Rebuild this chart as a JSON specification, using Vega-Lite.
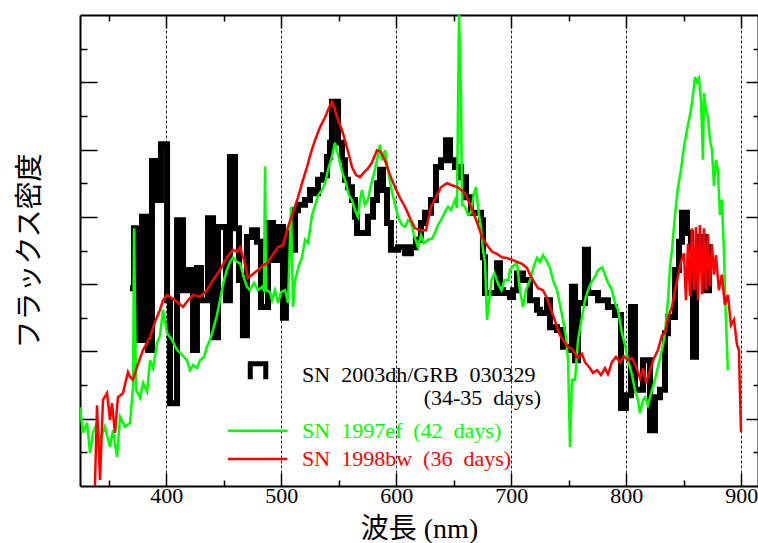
{
  "$schema": "https://vega.github.io/schema/vega-lite/v6.json",
  "width": 678,
  "height": 471,
  "autosize": {"type": "none"},
  "padding": {"left": 80, "top": 15, "right": 0, "bottom": 57},
  "background": "white",
  "config": {"view": {"stroke": null}},
  "datasets": {
    "green": [
      {"w":325.0,"f":1.17},{"w":327.6,"f":0.79},{"w":331.1,"f":0.94},{"w":333.7,"f":0.49},{"w":336.3,"f":0.79},{"w":339.8,"f":0.94},{"w":342.4,"f":0.68},{"w":346.7,"f":0.88},{"w":351.1,"f":0.58},{"w":353.7,"f":0.83},{"w":357.2,"f":0.43},{"w":359.8,"f":1.03},{"w":364.1,"f":0.88},{"w":368.5,"f":0.94},{"w":371.1,"f":1.47},{"w":372.0,"f":3.83},{"w":373.7,"f":1.43},{"w":377.2,"f":1.31},{"w":379.8,"f":1.53},{"w":383.3,"f":1.40},{"w":385.9,"f":1.87},{"w":388.5,"f":1.75},{"w":392.0,"f":2.12},{"w":394.6,"f":2.24},{"w":397.2,"f":2.62},{"w":400.7,"f":2.27},{"w":405.0,"f":2.17},{"w":409.4,"f":2.02},{"w":413.7,"f":1.95},{"w":418.0,"f":1.87},{"w":420.7,"f":1.72},{"w":423.3,"f":1.80},{"w":426.7,"f":1.75},{"w":429.3,"f":1.87},{"w":432.8,"f":1.92},{"w":435.4,"f":2.07},{"w":438.0,"f":2.17},{"w":440.7,"f":2.32},{"w":444.1,"f":2.54},{"w":446.7,"f":2.76},{"w":450.2,"f":3.06},{"w":452.8,"f":3.21},{"w":455.4,"f":3.33},{"w":458.0,"f":3.40},{"w":461.5,"f":3.33},{"w":464.1,"f":3.31},{"w":467.6,"f":3.09},{"w":470.2,"f":2.96},{"w":472.8,"f":2.91},{"w":476.3,"f":3.02},{"w":479.8,"f":2.91},{"w":483.3,"f":2.96},{"w":485.0,"f":2.91},{"w":485.9,"f":4.75},{"w":486.8,"f":2.91},{"w":490.2,"f":2.88},{"w":492.0,"f":2.76},{"w":494.6,"f":2.91},{"w":497.2,"f":2.72},{"w":499.8,"f":2.88},{"w":503.3,"f":2.91},{"w":505.9,"f":2.72},{"w":508.5,"f":4.15},{"w":510.2,"f":2.66},{"w":512.0,"f":3.06},{"w":515.4,"f":3.28},{"w":518.0,"f":3.40},{"w":520.7,"f":3.66},{"w":523.3,"f":3.61},{"w":526.8,"f":4.03},{"w":529.4,"f":4.17},{"w":532.0,"f":4.32},{"w":535.4,"f":4.40},{"w":538.1,"f":4.50},{"w":540.7,"f":4.70},{"w":544.1,"f":4.89},{"w":546.7,"f":5.10},{"w":549.4,"f":4.92},{"w":551.1,"f":4.80},{"w":553.7,"f":4.62},{"w":555.4,"f":4.55},{"w":558.9,"f":4.32},{"w":561.5,"f":4.25},{"w":564.1,"f":4.10},{"w":566.7,"f":4.00},{"w":568.5,"f":4.25},{"w":570.2,"f":4.40},{"w":572.8,"f":4.18},{"w":575.4,"f":4.25},{"w":578.0,"f":4.47},{"w":581.5,"f":4.70},{"w":584.1,"f":4.92},{"w":585.9,"f":5.07},{"w":587.6,"f":4.84},{"w":590.2,"f":4.99},{"w":592.8,"f":4.70},{"w":595.4,"f":4.44},{"w":598.9,"f":4.18},{"w":601.5,"f":4.00},{"w":605.0,"f":3.88},{"w":607.6,"f":3.85},{"w":610.2,"f":3.95},{"w":612.8,"f":3.92},{"w":615.4,"f":3.73},{"w":618.9,"f":3.55},{"w":621.5,"f":3.73},{"w":624.1,"f":3.61},{"w":627.6,"f":3.66},{"w":631.1,"f":3.68},{"w":633.7,"f":3.76},{"w":636.3,"f":3.88},{"w":638.9,"f":3.95},{"w":642.4,"f":4.07},{"w":645.0,"f":4.15},{"w":647.6,"f":4.10},{"w":651.1,"f":4.25},{"w":652.8,"f":4.13},{"w":654.6,"f":7.00},{"w":656.3,"f":5.81},{"w":657.2,"f":4.18},{"w":659.8,"f":4.15},{"w":662.4,"f":4.03},{"w":665.0,"f":4.06},{"w":667.6,"f":4.35},{"w":669.3,"f":4.44},{"w":671.9,"f":4.03},{"w":673.7,"f":3.85},{"w":675.4,"f":3.51},{"w":677.2,"f":3.33},{"w":678.9,"f":2.47},{"w":682.8,"f":3.06},{"w":685.4,"f":3.16},{"w":688.9,"f":2.99},{"w":691.5,"f":2.91},{"w":694.1,"f":3.06},{"w":697.6,"f":3.06},{"w":698.9,"f":3.21},{"w":702.4,"f":3.28},{"w":705.0,"f":3.31},{"w":707.6,"f":2.91},{"w":710.2,"f":2.66},{"w":712.8,"f":2.91},{"w":716.3,"f":3.06},{"w":719.8,"f":3.28},{"w":722.4,"f":3.39},{"w":725.0,"f":3.33},{"w":727.6,"f":3.43},{"w":730.2,"f":3.36},{"w":733.7,"f":3.24},{"w":736.3,"f":3.06},{"w":739.8,"f":2.91},{"w":742.4,"f":2.69},{"w":745.0,"f":2.47},{"w":747.6,"f":2.21},{"w":749.4,"f":1.87},{"w":751.1,"f":0.58},{"w":752.8,"f":1.58},{"w":755.5,"f":1.58},{"w":758.1,"f":2.17},{"w":761.5,"f":2.51},{"w":764.1,"f":2.76},{"w":766.8,"f":2.91},{"w":769.4,"f":3.02},{"w":772.8,"f":3.11},{"w":775.5,"f":3.21},{"w":779.0,"f":3.25},{"w":781.5,"f":3.14},{"w":784.1,"f":3.02},{"w":787.6,"f":2.91},{"w":790.2,"f":2.72},{"w":792.8,"f":2.62},{"w":796.3,"f":2.27},{"w":798.9,"f":2.10},{"w":801.5,"f":1.87},{"w":805.0,"f":1.65},{"w":807.6,"f":1.43},{"w":810.2,"f":1.28},{"w":812.0,"f":1.08},{"w":814.6,"f":1.28},{"w":816.3,"f":1.32},{"w":818.9,"f":1.20},{"w":822.4,"f":1.43},{"w":825.0,"f":1.58},{"w":827.6,"f":1.77},{"w":831.1,"f":2.02},{"w":833.7,"f":2.27},{"w":836.3,"f":2.76},{"w":838.0,"f":3.25},{"w":839.8,"f":3.51},{"w":842.4,"f":4.03},{"w":845.0,"f":4.44},{"w":847.6,"f":4.70},{"w":850.2,"f":5.04},{"w":852.8,"f":5.29},{"w":854.5,"f":5.44},{"w":856.3,"f":5.59},{"w":858.0,"f":5.81},{"w":859.8,"f":6.08},{"w":861.5,"f":6.00},{"w":863.2,"f":6.06},{"w":865.0,"f":5.74},{"w":866.7,"f":4.85},{"w":867.6,"f":5.84},{"w":869.3,"f":5.59},{"w":871.1,"f":5.48},{"w":872.8,"f":5.14},{"w":874.6,"f":4.99},{"w":876.3,"f":4.46},{"w":878.0,"f":4.84},{"w":879.7,"f":4.69},{"w":881.5,"f":4.03},{"w":883.2,"f":4.25},{"w":884.9,"f":3.51},{"w":886.7,"f":2.47},{"w":888.4,"f":1.72}
    ],
    "red": [
      {"w":338.0,"f":0.0},{"w":339.8,"f":1.20},{"w":342.4,"f":0.09},{"w":345.0,"f":1.28},{"w":348.5,"f":1.38},{"w":351.1,"f":0.98},{"w":352.8,"f":1.23},{"w":355.4,"f":0.79},{"w":358.0,"f":1.32},{"w":362.4,"f":1.38},{"w":366.7,"f":1.69},{"w":368.5,"f":1.62},{"w":371.1,"f":1.58},{"w":374.6,"f":1.77},{"w":379.8,"f":2.02},{"w":385.9,"f":2.21},{"w":390.2,"f":2.44},{"w":394.6,"f":2.62},{"w":397.2,"f":2.76},{"w":400.7,"f":2.84},{"w":403.3,"f":2.81},{"w":407.6,"f":2.76},{"w":414.6,"f":2.66},{"w":418.9,"f":2.76},{"w":423.3,"f":2.84},{"w":429.3,"f":2.81},{"w":435.4,"f":2.91},{"w":440.7,"f":3.06},{"w":446.7,"f":3.21},{"w":452.8,"f":3.40},{"w":458.0,"f":3.51},{"w":461.5,"f":3.48},{"w":464.1,"f":3.55},{"w":467.6,"f":3.36},{"w":471.1,"f":3.09},{"w":474.6,"f":3.14},{"w":479.8,"f":3.21},{"w":484.1,"f":3.28},{"w":487.6,"f":3.31},{"w":492.0,"f":3.42},{"w":497.2,"f":3.55},{"w":501.5,"f":3.58},{"w":505.9,"f":3.85},{"w":510.2,"f":4.07},{"w":514.6,"f":4.29},{"w":518.9,"f":4.55},{"w":522.4,"f":4.74},{"w":525.9,"f":4.96},{"w":529.4,"f":5.14},{"w":533.7,"f":5.33},{"w":538.1,"f":5.48},{"w":541.5,"f":5.62},{"w":544.1,"f":5.71},{"w":546.7,"f":5.59},{"w":549.4,"f":5.44},{"w":552.8,"f":5.29},{"w":555.4,"f":5.14},{"w":558.9,"f":4.92},{"w":561.5,"f":4.74},{"w":565.0,"f":4.62},{"w":568.5,"f":4.59},{"w":571.9,"f":4.66},{"w":575.4,"f":4.72},{"w":578.9,"f":4.81},{"w":583.3,"f":4.99},{"w":586.7,"f":4.96},{"w":590.2,"f":4.84},{"w":594.6,"f":4.62},{"w":598.9,"f":4.44},{"w":603.3,"f":4.28},{"w":607.6,"f":4.15},{"w":612.8,"f":3.95},{"w":616.3,"f":3.83},{"w":620.7,"f":3.80},{"w":625.9,"f":3.80},{"w":630.2,"f":4.15},{"w":635.4,"f":4.32},{"w":638.9,"f":4.44},{"w":644.1,"f":4.50},{"w":648.5,"f":4.47},{"w":653.7,"f":4.44},{"w":659.8,"f":4.35},{"w":665.0,"f":4.15},{"w":670.2,"f":3.92},{"w":674.6,"f":3.70},{"w":678.9,"f":3.58},{"w":683.3,"f":3.48},{"w":687.6,"f":3.45},{"w":691.9,"f":3.40},{"w":696.3,"f":3.39},{"w":700.7,"f":3.36},{"w":705.0,"f":3.33},{"w":709.4,"f":3.30},{"w":713.7,"f":3.24},{"w":716.3,"f":3.14},{"w":718.9,"f":3.06},{"w":723.3,"f":2.94},{"w":727.6,"f":2.91},{"w":731.1,"f":2.79},{"w":733.7,"f":2.66},{"w":737.2,"f":2.50},{"w":739.8,"f":2.36},{"w":742.4,"f":2.24},{"w":745.0,"f":2.17},{"w":749.4,"f":2.07},{"w":753.7,"f":2.02},{"w":758.1,"f":1.90},{"w":761.5,"f":1.96},{"w":764.1,"f":1.84},{"w":768.5,"f":1.75},{"w":771.1,"f":1.68},{"w":774.6,"f":1.72},{"w":778.1,"f":1.65},{"w":781.5,"f":1.75},{"w":784.1,"f":1.66},{"w":787.6,"f":1.84},{"w":791.1,"f":1.92},{"w":794.6,"f":1.84},{"w":798.0,"f":1.93},{"w":801.5,"f":1.87},{"w":805.0,"f":1.90},{"w":808.5,"f":1.78},{"w":812.0,"f":1.60},{"w":814.6,"f":1.75},{"w":817.2,"f":1.53},{"w":820.7,"f":1.72},{"w":824.1,"f":1.90},{"w":827.6,"f":2.02},{"w":831.1,"f":2.24},{"w":833.7,"f":2.27},{"w":836.3,"f":2.50},{"w":839.8,"f":2.66},{"w":842.4,"f":2.91},{"w":845.0,"f":3.11},{"w":847.6,"f":3.33},{"w":850.2,"f":3.46},{"w":851.9,"f":2.76},{"w":853.7,"f":3.60},{"w":855.4,"f":2.82},{"w":857.1,"f":3.83},{"w":858.9,"f":2.91},{"w":860.7,"f":3.85},{"w":862.4,"f":2.76},{"w":864.1,"f":3.88},{"w":865.9,"f":2.85},{"w":867.6,"f":3.83},{"w":869.3,"f":2.91},{"w":871.1,"f":3.74},{"w":872.8,"f":2.97},{"w":874.6,"f":3.58},{"w":876.3,"f":3.14},{"w":878.0,"f":3.43},{"w":880.6,"f":2.91},{"w":883.2,"f":3.14},{"w":885.8,"f":2.69},{"w":888.4,"f":2.84},{"w":891.1,"f":2.39},{"w":893.7,"f":2.47},{"w":896.3,"f":2.10},{"w":898.0,"f":2.02},{"w":899.8,"f":0.80}
    ],
    "black": [
      {"w":368.5,"f":2.94},{"w":372.0,"f":3.83},{"w":376.3,"f":2.17},{"w":378.9,"f":4.00},{"w":384.1,"f":2.02},{"w":387.6,"f":4.83},{"w":392.0,"f":4.25},{"w":395.4,"f":5.08},{"w":400.7,"f":2.76},{"w":403.3,"f":1.23},{"w":409.4,"f":3.95},{"w":414.6,"f":2.91},{"w":418.9,"f":3.21},{"w":423.3,"f":2.02},{"w":426.7,"f":3.24},{"w":430.2,"f":2.76},{"w":436.3,"f":3.98},{"w":440.7,"f":2.21},{"w":445.0,"f":3.85},{"w":452.0,"f":2.76},{"w":455.4,"f":4.89},{"w":459.8,"f":3.83},{"w":463.3,"f":3.06},{"w":466.7,"f":2.24},{"w":470.2,"f":3.70},{"w":474.6,"f":3.80},{"w":478.9,"f":3.63},{"w":482.4,"f":2.66},{"w":488.5,"f":3.91},{"w":492.8,"f":3.36},{"w":496.3,"f":3.85},{"w":501.5,"f":2.50},{"w":504.1,"f":3.76},{"w":508.5,"f":3.51},{"w":512.0,"f":4.10},{"w":514.6,"f":4.18},{"w":520.7,"f":4.25},{"w":525.0,"f":4.40},{"w":527.6,"f":4.35},{"w":532.0,"f":4.55},{"w":536.3,"f":4.62},{"w":539.8,"f":4.89},{"w":542.4,"f":5.10},{"w":544.1,"f":5.71},{"w":549.4,"f":5.10},{"w":552.8,"f":4.84},{"w":555.4,"f":4.55},{"w":558.1,"f":4.44},{"w":561.5,"f":4.25},{"w":564.1,"f":4.00},{"w":565.9,"f":3.76},{"w":575.4,"f":4.00},{"w":579.8,"f":4.25},{"w":583.3,"f":4.50},{"w":585.9,"f":4.70},{"w":588.5,"f":4.40},{"w":592.0,"f":3.91},{"w":595.4,"f":3.51},{"w":601.5,"f":3.55},{"w":607.6,"f":3.46},{"w":612.8,"f":3.55},{"w":617.2,"f":3.66},{"w":621.5,"f":3.91},{"w":625.0,"f":4.06},{"w":630.2,"f":4.25},{"w":634.6,"f":4.74},{"w":638.9,"f":4.84},{"w":643.3,"f":5.14},{"w":646.8,"f":4.84},{"w":651.1,"f":4.74},{"w":656.3,"f":4.59},{"w":660.7,"f":4.29},{"w":665.0,"f":4.06},{"w":673.7,"f":3.95},{"w":675.4,"f":3.40},{"w":677.2,"f":2.87},{"w":687.6,"f":3.31},{"w":690.2,"f":2.91},{"w":692.8,"f":2.87},{"w":698.9,"f":2.81},{"w":701.5,"f":2.91},{"w":705.0,"f":3.16},{"w":710.2,"f":3.06},{"w":716.3,"f":2.76},{"w":722.4,"f":2.62},{"w":725.0,"f":2.57},{"w":731.1,"f":2.76},{"w":733.7,"f":2.36},{"w":739.8,"f":2.32},{"w":745.0,"f":2.07},{"w":751.1,"f":2.02},{"w":752.8,"f":2.96},{"w":755.5,"f":1.87},{"w":758.1,"f":2.72},{"w":764.1,"f":3.51},{"w":766.8,"f":2.87},{"w":775.5,"f":2.76},{"w":784.1,"f":2.66},{"w":790.2,"f":2.54},{"w":795.5,"f":1.16},{"w":799.8,"f":1.35},{"w":804.1,"f":2.66},{"w":807.6,"f":1.43},{"w":814.6,"f":1.87},{"w":820.7,"f":0.83},{"w":825.0,"f":1.32},{"w":829.4,"f":1.43},{"w":833.7,"f":2.27},{"w":836.3,"f":2.51},{"w":842.4,"f":3.21},{"w":845.9,"f":3.63},{"w":848.5,"f":4.06},{"w":852.8,"f":3.76},{"w":856.3,"f":3.51},{"w":858.1,"f":1.92},{"w":860.7,"f":3.51},{"w":864.2,"f":3.70},{"w":868.5,"f":2.91},{"w":872.0,"f":3.55},{"w":875.5,"f":3.55}
    ]
  },
  "resolve": {"axis": {"x": "independent", "y": "independent"}},
  "layer": [
    {
      "data": {"name": "black"},
      "mark": {"type": "line", "interpolate": "step-after", "color": "black", "strokeWidth": 6, "clip": true},
      "encoding": {
        "x": {"field": "w", "type": "quantitative", "scale": {"domain": [325, 914.6], "nice": false, "zero": false},
          "axis": {"orient": "bottom", "values": [350,400,450,500,550,600,650,700,750,800,850,900],
            "labelExpr": "datum.value % 100 === 0 ? datum.label : ''",
            "tickSize": {"condition": {"test": "datum.value % 100 === 0", "value": -13}, "value": -6},
            "tickColor": "black", "tickWidth": 1.5,
            "grid": true, "gridDash": [3, 2], "gridColor": "#222", "gridWidth": 1,
            "gridOpacity": {"condition": {"test": "datum.value % 100 === 0", "value": 1}, "value": 0},
            "domainColor": "black", "domainWidth": 2,
            "labelFont": "Liberation Serif", "labelFontSize": 22, "labelColor": "black", "labelPadding": 12,
            "labelFlush": false, "labelOverlap": false,
            "title": "波長 (nm)", "titleFont": "Liberation Serif, Noto Sans CJK JP", "titleFontSize": 28,
            "titleFontWeight": "normal", "titleColor": "black", "titlePadding": 2}},
        "y": {"field": "f", "type": "quantitative", "scale": {"domain": [0, 7], "nice": false, "zero": false},
          "axis": {"orient": "left", "values": [0.5,1,1.5,2,2.5,3,3.5,4,4.5,5,5.5,6,6.5],
            "labels": false, "grid": false,
            "tickSize": {"condition": {"test": "datum.value % 1 === 0", "value": -17}, "value": -7},
            "tickColor": "black", "tickWidth": 1.5, "domainColor": "black", "domainWidth": 2,
            "title": "フラックス密度", "titleFont": "Noto Sans CJK JP", "titleFontSize": 28,
            "titleFontWeight": "normal", "titleColor": "black", "titlePadding": 35}}
      }
    },
    {
      "data": {"name": "green"},
      "mark": {"type": "line", "color": "#00ff00", "strokeWidth": 2.5, "clip": true},
      "encoding": {
        "x": {"field": "w", "type": "quantitative",
          "axis": {"orient": "top", "values": [350,400,450,500,550,600,650,700,750,800,850,900],
            "labels": false, "grid": false, "title": null,
            "tickSize": {"condition": {"test": "datum.value % 100 === 0", "value": -13}, "value": -6},
            "tickColor": "black", "tickWidth": 1.5, "domainColor": "black", "domainWidth": 2}},
        "y": {"field": "f", "type": "quantitative",
          "axis": {"orient": "right", "values": [0.5,1,1.5,2,2.5,3,3.5,4,4.5,5,5.5,6,6.5],
            "labels": false, "grid": false, "title": null,
            "tickSize": {"condition": {"test": "datum.value % 1 === 0", "value": -12}, "value": -5},
            "tickColor": "black", "tickWidth": 1.5, "domainColor": "black", "domainWidth": 2}}
      }
    },
    {
      "data": {"name": "red"},
      "mark": {"type": "line", "color": "#ff0000", "strokeWidth": 2.5, "clip": true},
      "encoding": {
        "x": {"field": "w", "type": "quantitative", "axis": null},
        "y": {"field": "f", "type": "quantitative", "axis": null}
      }
    },
    {
      "data": {"values": [{"series": "SN 2003dh/GRB 030329"}]},
      "mark": {"type": "point", "shape": "M-1,1L-1,-1L1,-1L1,1", "filled": false, "color": "black", "strokeWidth": 5, "size": 240, "strokeJoin": "miter", "opacity": 1},
      "encoding": {
        "x": {"datum": 479.8, "type": "quantitative", "axis": null},
        "y": {"datum": 1.70, "type": "quantitative", "axis": null}
      }
    },
    {
      "data": {"values": [{"label": "SN\u00a0\u00a02003dh/GRB\u00a0\u00a0030329"}]},
      "mark": {"type": "text", "align": "left", "baseline": "alphabetic", "font": "Liberation Serif", "fontSize": 22, "color": "black"},
      "encoding": {
        "x": {"datum": 518.1, "type": "quantitative", "axis": null},
        "y": {"datum": 1.55, "type": "quantitative", "axis": null},
        "text": {"field": "label"}
      }
    },
    {
      "data": {"values": [{"label": "(34-35\u00a0\u00a0days)"}]},
      "mark": {"type": "text", "align": "right", "baseline": "alphabetic", "font": "Liberation Serif", "fontSize": 22, "color": "black"},
      "encoding": {
        "x": {"datum": 725.9, "type": "quantitative", "axis": null},
        "y": {"datum": 1.20, "type": "quantitative", "axis": null},
        "text": {"field": "label"}
      }
    },
    {
      "data": {"values": [{"series": "SN 1997ef"}]},
      "mark": {"type": "rule", "color": "#00ff00", "strokeWidth": 2.5},
      "encoding": {
        "x": {"datum": 453.7, "type": "quantitative", "axis": null},
        "x2": {"datum": 505.0},
        "y": {"datum": 0.82, "type": "quantitative", "axis": null}
      }
    },
    {
      "data": {"values": [{"label": "SN\u00a0\u00a01997ef\u00a0\u00a0(42\u00a0\u00a0days)"}]},
      "mark": {"type": "text", "align": "left", "baseline": "alphabetic", "font": "Liberation Serif", "fontSize": 22, "color": "#00ff00"},
      "encoding": {
        "x": {"datum": 518.1, "type": "quantitative", "axis": null},
        "y": {"datum": 0.71, "type": "quantitative", "axis": null},
        "text": {"field": "label"}
      }
    },
    {
      "data": {"values": [{"series": "SN 1998bw"}]},
      "mark": {"type": "rule", "color": "#ff0000", "strokeWidth": 2.5},
      "encoding": {
        "x": {"datum": 453.7, "type": "quantitative", "axis": null},
        "x2": {"datum": 505.0},
        "y": {"datum": 0.40, "type": "quantitative", "axis": null}
      }
    },
    {
      "data": {"values": [{"label": "SN\u00a0\u00a01998bw\u00a0\u00a0(36\u00a0\u00a0days)"}]},
      "mark": {"type": "text", "align": "left", "baseline": "alphabetic", "font": "Liberation Serif", "fontSize": 22, "color": "#ff0000"},
      "encoding": {
        "x": {"datum": 518.1, "type": "quantitative", "axis": null},
        "y": {"datum": 0.30, "type": "quantitative", "axis": null},
        "text": {"field": "label"}
      }
    }
  ]
}
